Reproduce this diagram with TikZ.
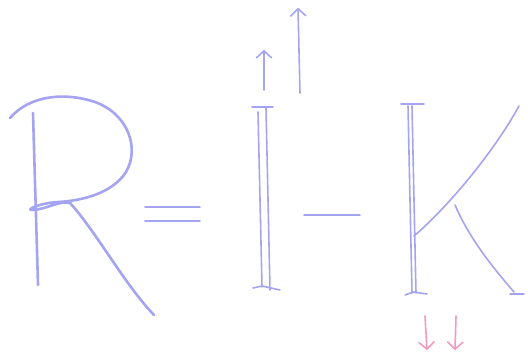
\documentclass[tikz,border=0pt]{standalone}
\usetikzlibrary{arrows.meta}
\definecolor{pen}{HTML}{A4A4F2}
\definecolor{pinkpen}{HTML}{F29AC0}
\tikzset{
  stroke/.style={draw=pen, line width=2.6pt, line cap=round, line join=round},
  fine/.style={draw=pen, line width=1.6pt, line cap=round, line join=round},
  barb/.style={-{Straight Barb[length=7pt,width=15pt,round]}},
}
\begin{document}
\begin{tikzpicture}[x=1pt,y=-1pt]
\useasboundingbox (0,0) rectangle (528,358);
% R
\draw[stroke] (33,113) -- (38,285);
\draw[stroke] (10,118) .. controls (30,95) and (65,92) .. (95,102)
  .. controls (128,114) and (140,148) .. (126,172)
  .. controls (112,194) and (80,201) .. (58,202)
  .. controls (40,203) and (25,210) .. (32,210)
  .. controls (45,210) and (60,200) .. (70,203)
  .. controls (95,230) and (125,285) .. (154,315);
% equals
\draw[fine] (145,207) -- (200,207);
\draw[fine] (145,221) -- (200,221);
% I
\draw[fine] (252,107) -- (273,107);
\draw[fine] (258,112) -- (262,287);
\draw[fine] (266,108) -- (270,290);
\draw[fine] (253,288) -- (262,286) -- (280,290);
% arrows above I
\draw[fine, barb] (264,90) -- (264,50);
\draw[fine, barb] (300,93) -- (298,8);
% minus
\draw[fine] (304,215) -- (360,215);
% K
\draw[fine] (401,104) -- (424,104);
\draw[fine] (408,106) -- (412,293);
\draw[fine] (412,106) -- (416,293);
\draw[fine] (405,295) -- (413,292) -- (427,294);
\draw[fine] (414,236) .. controls (450,205) and (495,150) .. (519,106);
\draw[fine] (455,205) .. controls (470,240) and (495,270) .. (514,292);
\draw[fine] (510,294) -- (524,294);
% pink arrows
\draw[fine, draw=pinkpen, barb] (425,316) -- (427,350);
\draw[fine, draw=pinkpen, barb] (456,316) -- (455,350);
\end{tikzpicture}
\end{document}
